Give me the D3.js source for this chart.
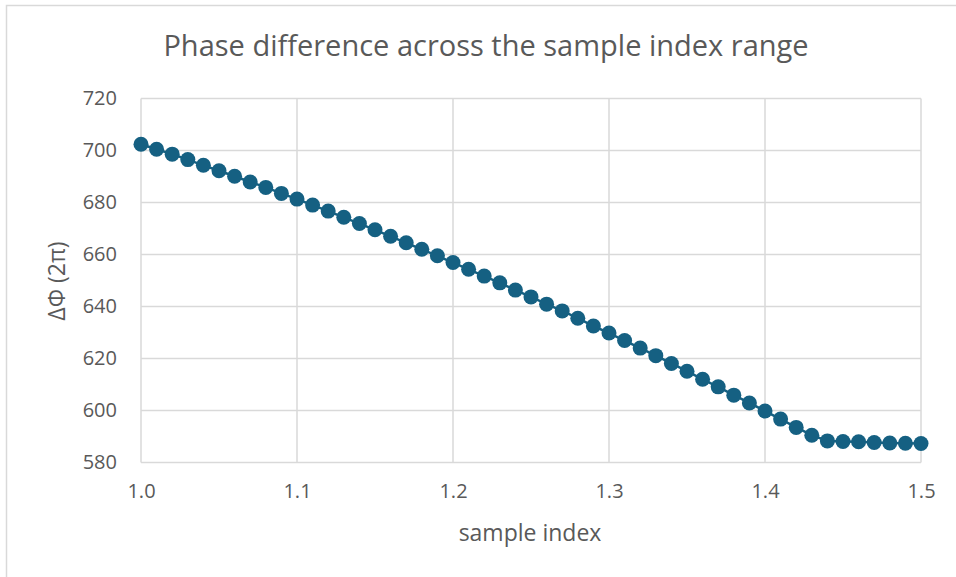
<!DOCTYPE html>
<html>
<head>
<meta charset="utf-8">
<script src="https://cdn.jsdelivr.net/npm/d3@7"></script>
<style>
  html, body { margin: 0; padding: 0; background: #fff; }
  svg { display: block; }
  text { font-family: "Open Sans", "Liberation Sans", sans-serif; fill: #595959; }
</style>
</head>
<body>
<svg id="chart" width="956" height="577"></svg>
<script>
// sample index positions
const sampleIndex = [
  1.00, 1.01, 1.02, 1.03, 1.04, 1.05, 1.06, 1.07, 1.08, 1.09,
  1.10, 1.11, 1.12, 1.13, 1.14, 1.15, 1.16, 1.17, 1.18, 1.19,
  1.20, 1.21, 1.22, 1.23, 1.24, 1.25, 1.26, 1.27, 1.28, 1.29,
  1.30, 1.31, 1.32, 1.33, 1.34, 1.35, 1.36, 1.37, 1.38, 1.39,
  1.40, 1.41, 1.42, 1.43, 1.44, 1.45, 1.46, 1.47, 1.48, 1.49, 1.50
];
// phase difference in units of 2π
const phaseDiff = [
  702.4, 700.5, 698.6, 696.5, 694.3, 692.2, 690.1, 687.9, 685.8, 683.5,
  681.3, 679.0, 676.7, 674.3, 671.9, 669.5, 667.0, 664.5, 662.0, 659.5,
  656.9, 654.3, 651.7, 649.1, 646.3, 643.7, 640.9, 638.3, 635.5, 632.5,
  629.8, 626.9, 624.0, 621.1, 618.1, 615.1, 612.0, 609.1, 605.9, 602.9,
  599.8, 596.7, 593.5, 590.5, 588.3, 588.1, 588.0, 587.7, 587.5, 587.4, 587.3
];
const xTicks = [1.0, 1.1, 1.2, 1.3, 1.4, 1.5];
const yTicks = [580, 600, 620, 640, 660, 680, 700, 720];

const chartTitle = "Phase difference across the sample index range";
const xTitle = "sample index";
const yTitle = "ΔΦ (2π)";

const svg = d3.select("#chart");
const W = 956, H = 577;
const plot = { left: 141, right: 921, top: 98.5, bottom: 462.5 };

// outer chart frame
svg.append("rect")
  .attr("x", 6.5).attr("y", 5.5)
  .attr("width", W + 10).attr("height", H + 10)
  .attr("fill", "#fff").attr("stroke", "#d9d9d9").attr("stroke-width", 1.5);

const x = d3.scaleLinear().domain([1.0, 1.5]).range([plot.left, plot.right]);
const y = d3.scaleLinear().domain([580, 720]).range([plot.bottom, plot.top]);

// gridlines
const grid = svg.append("g").attr("stroke", "#d9d9d9").attr("stroke-width", 1.5);
grid.selectAll("line.h").data(yTicks).join("line")
  .attr("x1", plot.left).attr("x2", plot.right)
  .attr("y1", d => y(d)).attr("y2", d => y(d));
grid.selectAll("line.v").data(xTicks).join("line")
  .attr("y1", plot.top).attr("y2", plot.bottom)
  .attr("x1", d => x(d)).attr("x2", d => x(d));

// axes (labels only; lines come from the grid)
const xAxis = svg.append("g")
  .attr("transform", `translate(0,${plot.bottom})`)
  .call(d3.axisBottom(x).tickValues(xTicks).tickFormat(d3.format(".1f")).tickSize(0).tickPadding(21));
const yAxis = svg.append("g")
  .attr("transform", `translate(${plot.left},0)`)
  .call(d3.axisLeft(y).tickValues(yTicks).tickSize(0).tickPadding(24));
[xAxis, yAxis].forEach(a => {
  a.select(".domain").remove();
  a.selectAll("text").attr("font-size", 20).attr("fill", "#595959")
    .attr("font-family", "\"Open Sans\", sans-serif");
});

// connecting line and markers
const pts = sampleIndex.map((s, i) => [s, phaseDiff[i]]);
const color = "#156082";
svg.append("path")
  .datum(pts)
  .attr("fill", "none").attr("stroke", color).attr("stroke-width", 2.5)
  .attr("d", d3.line().x(d => x(d[0])).y(d => y(d[1])));
svg.append("g").selectAll("circle").data(pts).join("circle")
  .attr("cx", d => x(d[0])).attr("cy", d => y(d[1]))
  .attr("r", 7.5).attr("fill", color);

// titles
svg.append("text")
  .attr("x", 486).attr("y", 56)
  .attr("text-anchor", "middle").attr("font-size", 29)
  .text(chartTitle);
svg.append("text")
  .attr("x", 530).attr("y", 541)
  .attr("text-anchor", "middle").attr("font-size", 23)
  .text(xTitle);
svg.append("text")
  .attr("transform", "translate(65,281) rotate(-90)")
  .attr("text-anchor", "middle").attr("font-size", 23)
  .text(yTitle);
</script>
</body>
</html>
